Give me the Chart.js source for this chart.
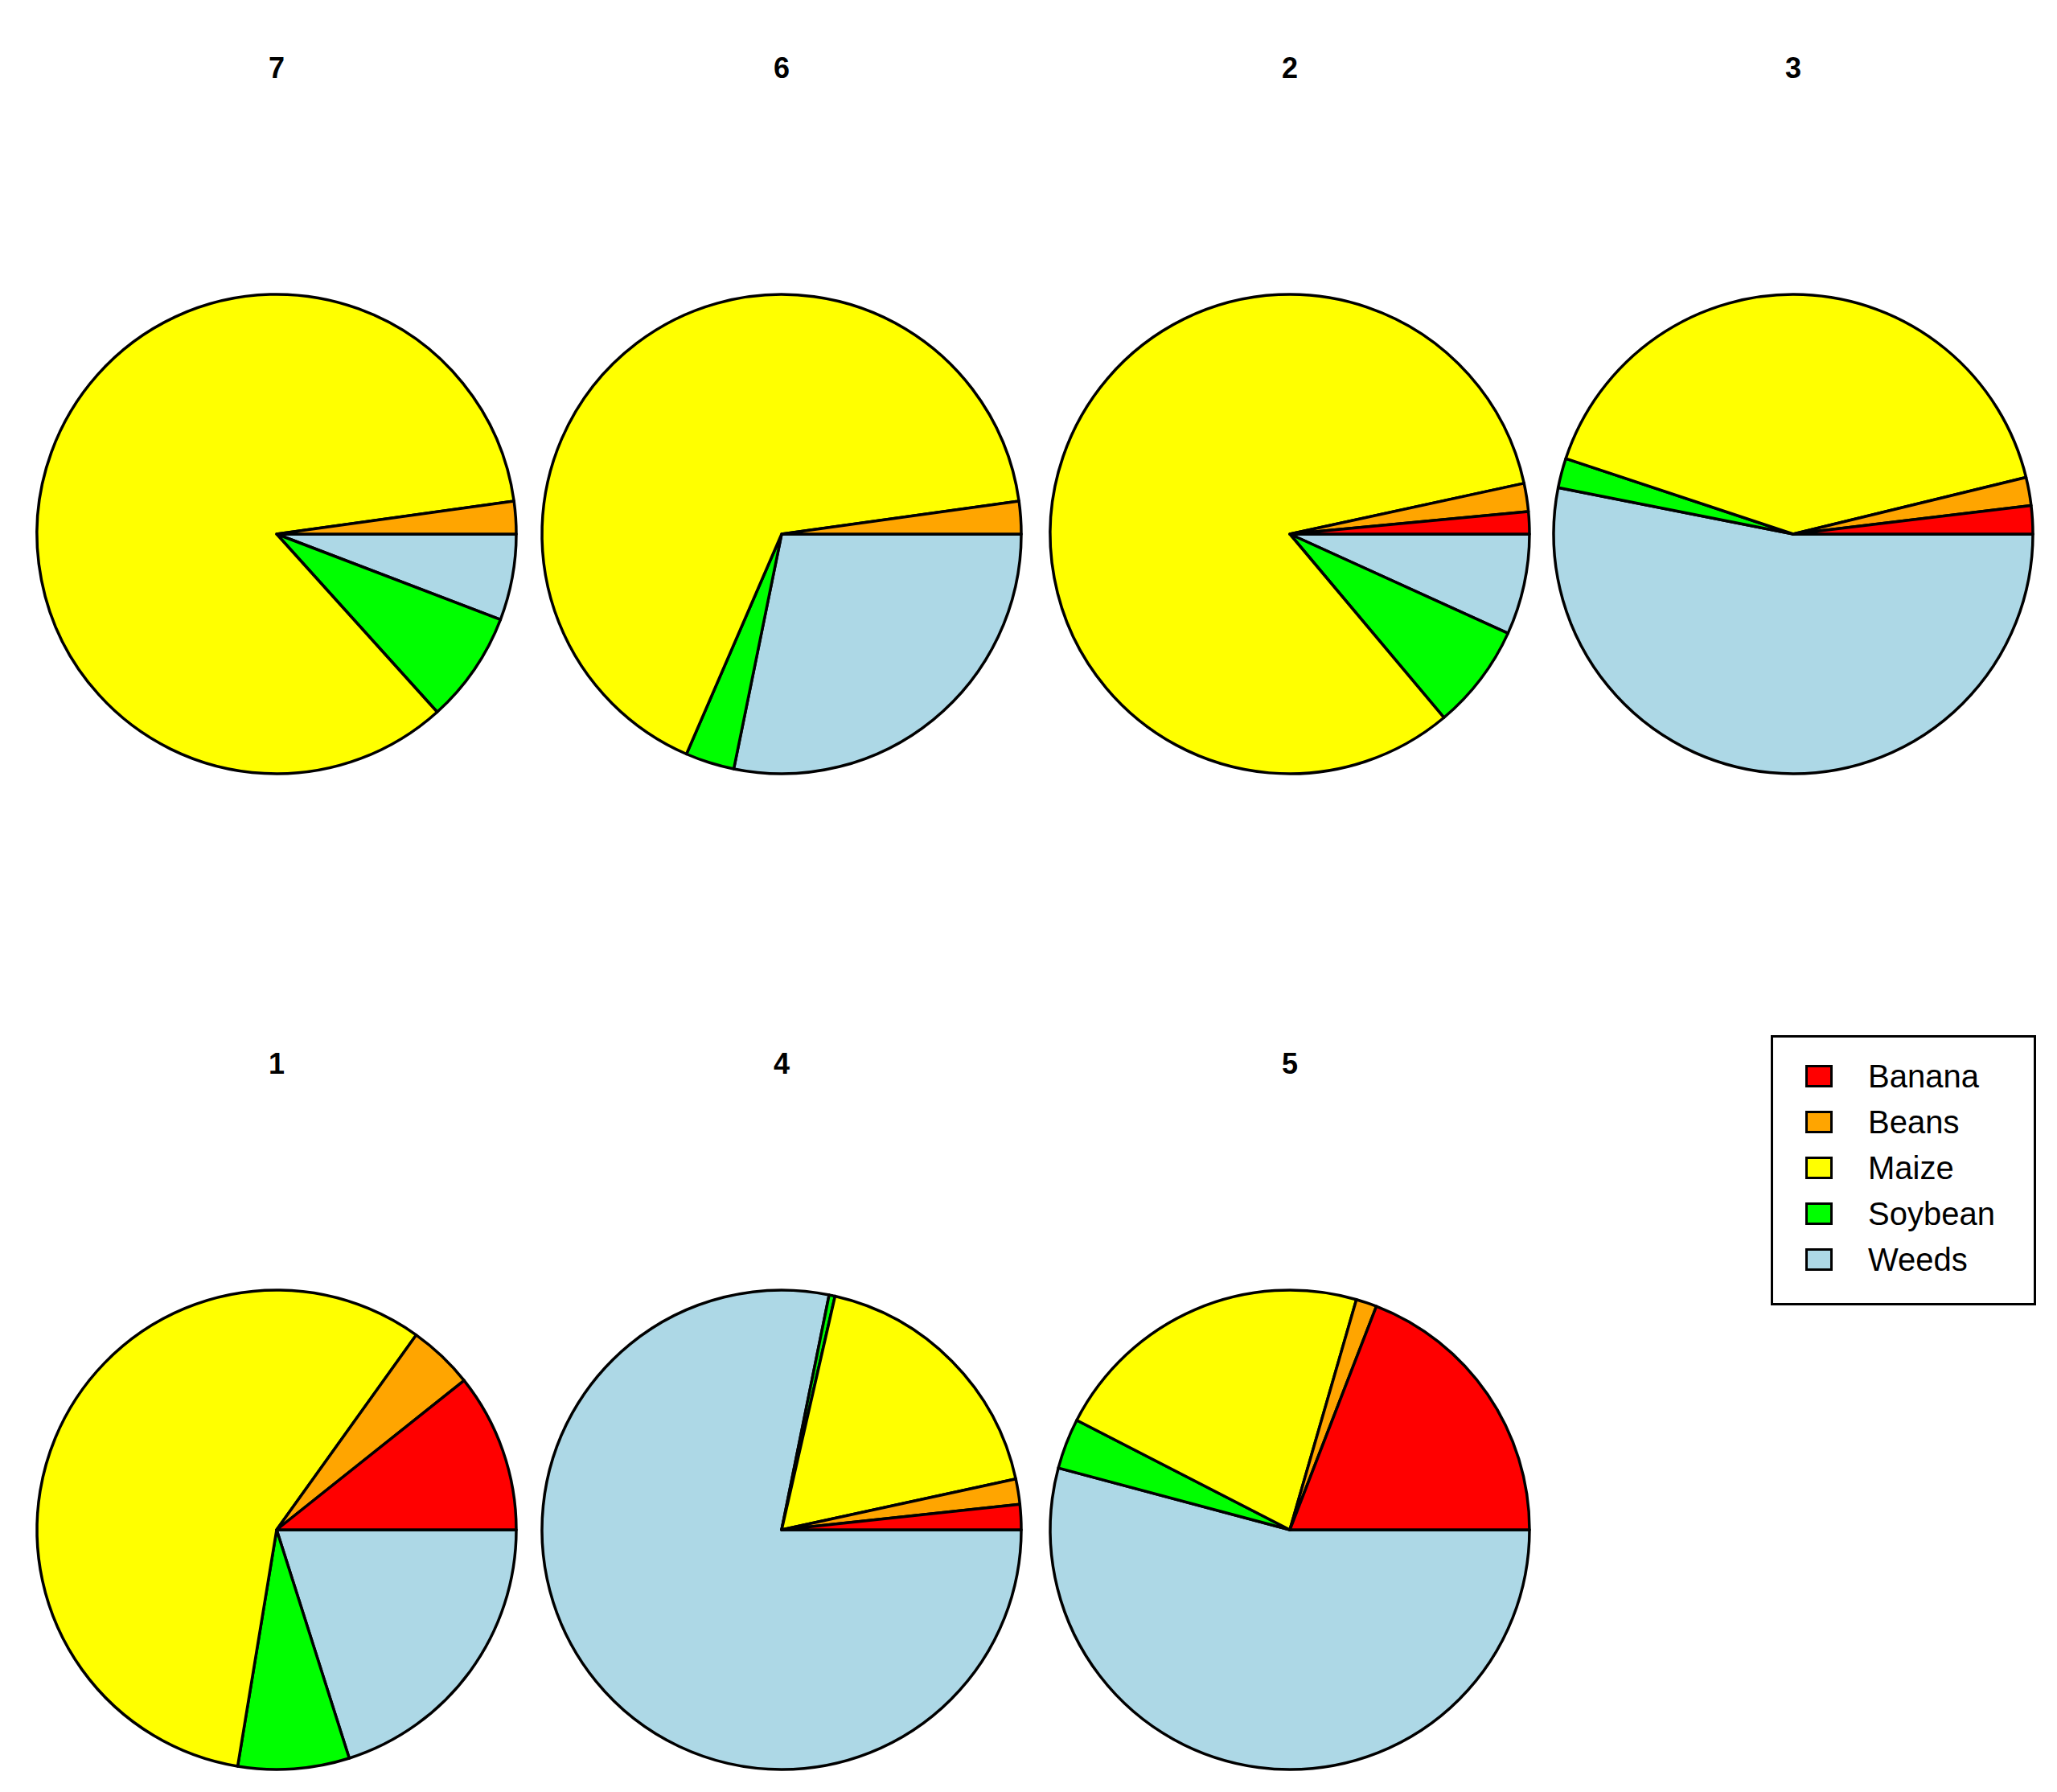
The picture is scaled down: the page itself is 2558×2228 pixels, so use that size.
<!DOCTYPE html>
<html>
<head>
<meta charset="utf-8">
<script src="https://cdn.jsdelivr.net/npm/chart.js@4"></script>
<style>
  body { margin: 0; background: #fff; width: 2558px; height: 2228px; position: relative; font-family: "Liberation Sans", Arial, sans-serif; }
  .pie { position: absolute; width: 640px; height: 640px; }
  .title { position: absolute; width: 200px; text-align: center; font-weight: bold; font-size: 36px; }
  #legend { position: absolute; left: 2202px; top: 1287px; width: 330px; height: 336px; border: 3px solid #000; box-sizing: border-box; font-size: 40px; }
  .item { position: absolute; left: 40px; height: 52px; line-height: 52px; }
  .sw { position: absolute; left: 0; top: 12px; width: 28px; height: 22px; border: 3px solid #000; }
  .lab { position: absolute; left: 78px; white-space: nowrap; }
</style>
</head>
<body>
<div id="legend"></div>
<script>
// crop categories in R order (counter-clockwise from 3 o'clock)
const crops = ['Banana', 'Beans', 'Maize', 'Soybean', 'Weeds'];
const cropColors = ['#ff0000', '#ffa500', '#ffff00', '#00ff00', '#add8e6'];

// percent shares per plot
const plotNames = ['7', '6', '2', '3', '1', '4', '5'];
const plot7 = [0, 2.2, 84.4, 7.5, 5.8];
const plot6 = [0, 2.2, 66.3, 3.3, 28.2];
const plot2 = [1.5, 1.9, 82.8, 7.1, 6.8];
const plot3 = [1.9, 1.9, 41.1, 2.0, 53.1];
const plot1 = [10.7, 4.4, 57.3, 7.5, 20.1];
const plot4 = [1.7, 1.7, 18.0, 0.4, 78.1];
const plot5 = [19.1, 1.4, 21.9, 3.4, 54.1];
const plotValues = [plot7, plot6, plot2, plot3, plot1, plot4, plot5];

const centersX = [344, 972, 1604, 2230];
const centersY = [664, 1902];

plotValues.forEach((vals, i) => {
    const cx = centersX[i % 4], cy = centersY[Math.floor(i / 4)];
    const t = document.createElement('div');
    t.className = 'title';
    t.style.left = (cx - 100) + 'px';
    t.style.top = (cy - 600) + 'px';
    t.textContent = plotNames[i];
    document.body.appendChild(t);

    const c = document.createElement('canvas');
    c.className = 'pie';
    c.width = 640; c.height = 640;
    c.style.left = (cx - 320) + 'px';
    c.style.top = (cy - 320) + 'px';
    document.body.appendChild(c);

    // Chart.js draws clockwise, so reverse the order to mimic R's counter-clockwise pie
    new Chart(c, {
        type: 'pie',
        data: {
            labels: crops.slice().reverse(),
            datasets: [{
                data: vals.slice().reverse(),
                backgroundColor: cropColors.slice().reverse(),
                borderColor: '#000', borderWidth: 3.5, borderJoinStyle: 'round'
            }]
        },
        options: {
            responsive: false, animation: false, devicePixelRatio: 1,
            rotation: 90, radius: 298,
            layout: { padding: 0 },
            plugins: { legend: { display: false }, tooltip: { enabled: false } }
        }
    });
});

const legendEl = document.getElementById('legend');
crops.forEach((name, i) => {
    const it = document.createElement('div');
    it.className = 'item';
    it.style.top = (22 + i * 57) + 'px';
    it.innerHTML = `<div class="sw" style="background:${cropColors[i]}"></div><span class="lab">${name}</span>`;
    legendEl.appendChild(it);
});
</script>
</body>
</html>
